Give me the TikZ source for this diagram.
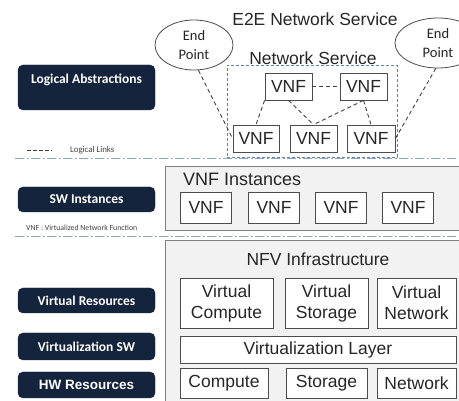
\documentclass[tikz,border=0pt]{standalone}
\usepackage{fontspec}
\setmainfont{Liberation Sans}
\newfontfamily\calibfont{Carlito}
\usetikzlibrary{shapes.geometric}

\definecolor{navy}{HTML}{14243D}
\definecolor{panelgray}{HTML}{F2F2F2}
\definecolor{sepblue}{HTML}{8CA5C0}
\definecolor{nsblue}{HTML}{5F83A8}

\begin{document}
\begin{tikzpicture}[x=1pt, y=-1pt,
    layerbox/.style={fill=navy, draw=navy, rounded corners=5pt, inner sep=0pt},
    layertext/.style={text=white, font=\calibfont\bfseries\fontsize{13.5}{16}\selectfont},
    smalltext/.style={text=black!75, font=\calibfont\fontsize{7.8}{9}\selectfont, inner sep=0pt},
    panel/.style={fill=panelgray, draw=black!50, line width=0.8pt, inner sep=0pt},
    vnfbox/.style={fill=white, draw=black!70, line width=0.8pt, inner sep=0pt, align=center,
        text=black!85, font=\fontsize{17.5}{21}\selectfont},
    paneltitle/.style={text=black!85, font=\fontsize{17.5}{21}\selectfont, inner sep=0pt},
    endpoint/.style={ellipse, draw=black!70, fill=white, line width=0.8pt, inner sep=0pt,
        align=center, text=black!85, font=\calibfont\fontsize{14.5}{19}\selectfont},
    nsframe/.style={draw=nsblue, line width=0.9pt, dash pattern=on 3pt off 2pt, inner sep=0pt},
    link/.style={black!75, line width=0.9pt, dash pattern=on 4pt off 3pt},
    sepline/.style={sepblue, line width=0.9pt, dash pattern=on 9pt off 2.5pt on 2pt off 2.5pt}
]
    % --- page size ---
    \useasboundingbox (0,0) rectangle (459,401);
    \clip (0,0) rectangle (459,401);

    % --- left column: layer labels ---
    \node[layerbox, minimum width=137pt, minimum height=45pt] (la) at (86.5,87.5) {};
    \node[layertext] (laText) at (86.5,80) {Logical Abstractions};
    \node[layerbox, layertext, minimum width=137pt, minimum height=25pt] (sw) at (86.5,199.5) {SW Instances};
    \node[layerbox, layertext, minimum width=137pt, minimum height=25pt] (vr) at (86.5,300.5) {Virtual Resources};
    \node[layerbox, layertext, minimum width=137pt, minimum height=27pt] (vs) at (86.5,346.5) {Virtualization SW};
    \node[layerbox, layertext, font=\bfseries\fontsize{13.5}{16}\selectfont,
        minimum width=137pt, minimum height=26pt] (hw) at (86.5,385) {HW Resources};

    % legend and note
    \draw[link, line width=0.8pt, dash pattern=on 3.5pt off 2.5pt] (27,150) -- (52,150);
    \node[smalltext, anchor=west, font=\calibfont\fontsize{8.8}{10}\selectfont] (legText) at (70,150) {Logical Links};
    \node[smalltext, anchor=west] (vnfNote) at (26,228) {VNF : Virtualized Network Function};

    % --- separators between the layers ---
    \draw[sepline] (15,158) -- (459,158);
    \draw[sepline] (15,236) -- (459,236);

    % --- SW instances panel ---
    \node[panel, anchor=north west, minimum width=310pt, minimum height=64pt] (swPanel) at (165,166) {};
    \node[paneltitle, anchor=west, font=\fontsize{18}{21}\selectfont] (swTitle) at (183,179) {VNF Instances};
    \foreach \i/\cx in {1/206, 2/274, 3/341, 4/408}
        \node[vnfbox, minimum width=51pt, minimum height=31pt] (inst\i) at (\cx,207.5) {VNF};

    % --- NFV infrastructure panel ---
    \node[panel, anchor=north west, minimum width=310pt, minimum height=180pt] (nfviPanel) at (165,240) {};
    \node[paneltitle] (nfviTitle) at (318,259) {NFV Infrastructure};
    \node[vnfbox, minimum width=93pt, minimum height=50pt] (vCompute) at (226.5,303) {Virtual\\Compute};
    \node[vnfbox, minimum width=83pt, minimum height=50pt] (vStorage) at (326.5,303) {Virtual\\Storage};
    \node[vnfbox, minimum width=79pt, minimum height=50pt] (vNetwork) at (416.5,303) {Virtual\\Network};
    \node[vnfbox, minimum width=276pt, minimum height=27pt] (virtLayer) at (318,349.5) {Virtualization Layer};
    \node[vnfbox, minimum width=88pt, minimum height=30pt] (compute) at (224,383) {Compute};
    \node[vnfbox, minimum width=81pt, minimum height=30pt] (storage) at (326.5,383) {Storage};
    \node[vnfbox, minimum width=79pt, minimum height=30pt] (network) at (416.5,383) {Network};

    % --- logical abstractions: E2E service ---
    \node[paneltitle] (e2e) at (315,19) {E2E Network Service};
    \node[paneltitle] (nsTitle) at (313,58) {Network Service};
    \node[nsframe, anchor=north west, minimum width=170pt, minimum height=92pt] (ns) at (227,65) {};
    \node[endpoint, minimum width=78pt, minimum height=50pt] (epL) at (194,45) {End\\Point};
    \node[endpoint, minimum width=86pt, minimum height=50pt] (epR) at (438,43) {End\\Point};

    \node[vnfbox, minimum width=47pt, minimum height=27pt] (uA) at (288.5,86.5) {VNF};
    \node[vnfbox, minimum width=47pt, minimum height=27pt] (uB) at (363.5,86.5) {VNF};
    \node[vnfbox, minimum width=46pt, minimum height=27pt] (l1) at (256,138.5) {VNF};
    \node[vnfbox, minimum width=47pt, minimum height=27pt] (l2) at (313.5,138.5) {VNF};
    \node[vnfbox, minimum width=48pt, minimum height=27pt] (l3) at (371,138.5) {VNF};

    % logical links
    \draw[link] (uA) -- (uB);
    \draw[link] (uA.south west) -- (l1.north);
    \draw[link] (uA.south) -- (l2.north);
    \draw[link] (uB.south) -- (l2.north);
    \draw[link] (uB.south) -- (l3.north);
    \draw[link] (epL.280) -- (l1.west);
    \draw[link] (epR.265) -- (l3.east);
\end{tikzpicture}
\end{document}
